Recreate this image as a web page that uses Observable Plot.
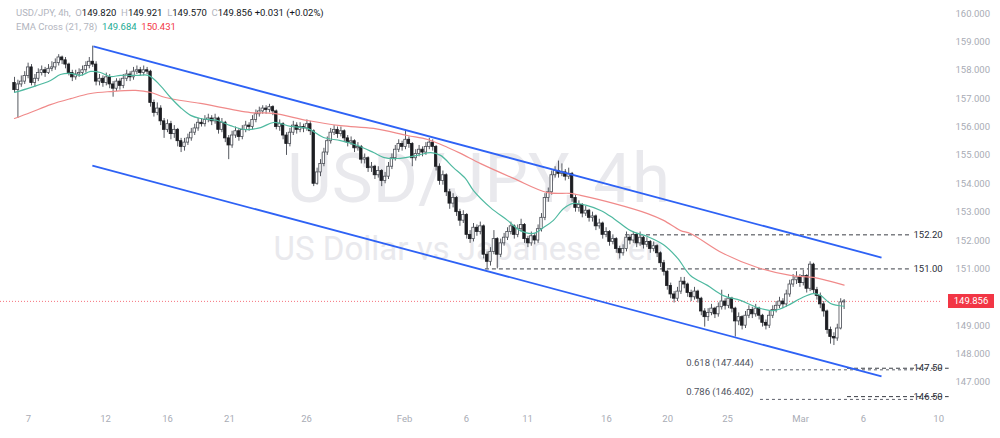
<!DOCTYPE html>
<html><head><meta charset="utf-8">
<script src="https://cdn.jsdelivr.net/npm/d3@7"></script>
<script src="https://cdn.jsdelivr.net/npm/@observablehq/plot@0.6"></script>
<style>
body{margin:0;background:#fff}
#wrap{position:relative;width:1000px;height:438px;font-family:Roboto,"Liberation Sans",sans-serif}
.hdr{position:absolute;left:16px;font-size:9.5px;line-height:12px;white-space:pre;color:#b2b5be}
.v{color:#131722}
#badge{position:absolute;left:948px;width:46px;height:14px;line-height:14px;background:#f23645;color:#fff;font-size:9.5px;text-align:center}
</style></head><body>
<div id="wrap"></div>
<script>
// ---- data (4h bars) ----
const open = [
157.55,157.30,157.50,157.60,157.80,158.10,157.55,157.70,157.90,158.00,
157.90,158.05,158.10,158.25,158.45,158.35,158.20,157.90,157.75,157.85,
157.90,158.00,158.15,158.30,158.20,157.60,157.70,157.55,157.75,157.50,
157.35,157.60,157.45,157.70,157.85,157.75,157.95,158.00,157.90,158.00,
157.95,156.85,156.50,156.65,156.20,155.90,156.10,155.75,155.90,155.50,
155.30,155.45,155.60,155.80,155.95,156.15,156.10,156.25,156.30,156.20,
156.30,155.90,156.15,155.60,155.35,155.70,155.85,155.65,155.90,156.05,
156.00,156.25,156.45,156.55,156.65,156.60,156.70,156.55,156.00,156.10,
155.70,155.40,155.80,156.05,155.90,156.00,155.95,156.10,155.85,154.00,
154.40,154.70,155.10,155.50,155.80,155.90,155.75,155.85,155.60,155.45,
155.50,155.25,155.30,154.85,154.90,154.55,154.60,154.30,154.45,154.10,
154.25,154.60,154.90,155.20,155.40,155.30,155.55,155.40,154.90,155.05,
155.20,155.10,155.30,155.45,155.30,154.60,154.10,154.30,153.70,153.30,
153.50,153.00,152.70,152.90,152.20,152.05,152.45,152.30,152.50,151.50,
151.25,151.60,152.05,151.50,151.90,152.10,152.30,152.50,152.20,152.40,
152.55,152.05,151.90,152.15,152.00,152.40,152.80,153.50,153.70,154.30,
154.45,154.35,154.40,154.25,154.35,153.50,153.15,153.25,152.95,153.05,
152.80,152.85,152.50,152.60,152.20,152.30,151.95,152.05,151.70,151.55,
151.70,152.10,152.00,152.20,151.90,152.10,151.85,151.95,151.70,151.80,
151.55,151.20,150.90,150.40,150.10,149.95,150.20,150.55,150.45,150.15,
150.00,150.20,149.95,149.50,149.30,149.45,149.60,149.40,149.65,149.85,
149.70,149.95,149.60,149.15,149.30,149.00,149.35,149.55,149.40,149.60,
149.35,149.10,149.00,149.35,149.55,149.70,149.85,149.75,150.10,150.45,
150.60,150.70,150.50,150.75,150.30,151.15,150.25,150.05,149.75,149.50,
148.85,148.60,148.55,148.90,149.82];
const close = [
157.30,157.50,157.60,157.80,158.10,157.55,157.70,157.90,158.00,157.90,
158.05,158.10,158.25,158.45,158.35,158.20,157.90,157.75,157.85,157.90,
158.00,158.15,158.30,158.20,157.60,157.70,157.55,157.75,157.50,157.35,
157.60,157.45,157.70,157.85,157.75,157.95,158.00,157.90,158.00,157.95,
156.85,156.50,156.65,156.20,155.90,156.10,155.75,155.90,155.50,155.30,
155.45,155.60,155.80,155.95,156.15,156.10,156.25,156.30,156.20,156.30,
155.90,156.15,155.60,155.35,155.70,155.85,155.65,155.90,156.05,156.00,
156.25,156.45,156.55,156.65,156.60,156.70,156.55,156.00,156.10,155.70,
155.40,155.80,156.05,155.90,156.00,155.95,156.10,155.85,154.00,154.40,
154.70,155.10,155.50,155.80,155.90,155.75,155.85,155.60,155.45,155.50,
155.25,155.30,154.85,154.90,154.55,154.60,154.30,154.45,154.10,154.25,
154.60,154.90,155.20,155.40,155.30,155.55,155.40,154.90,155.05,155.20,
155.10,155.30,155.45,155.30,154.60,154.10,154.30,153.70,153.30,153.50,
153.00,152.70,152.90,152.20,152.05,152.45,152.30,152.50,151.50,151.25,
151.60,152.05,151.50,151.90,152.10,152.30,152.50,152.20,152.40,152.55,
152.05,151.90,152.15,152.00,152.40,152.80,153.50,153.70,154.30,154.45,
154.35,154.40,154.25,154.35,153.50,153.15,153.25,152.95,153.05,152.80,
152.85,152.50,152.60,152.20,152.30,151.95,152.05,151.70,151.55,151.70,
152.10,152.00,152.20,151.90,152.10,151.85,151.95,151.70,151.80,151.55,
151.20,150.90,150.40,150.10,149.95,150.20,150.55,150.45,150.15,150.00,
150.20,149.95,149.50,149.30,149.45,149.60,149.40,149.65,149.85,149.70,
149.95,149.60,149.15,149.30,149.00,149.35,149.55,149.40,149.60,149.35,
149.10,149.00,149.35,149.55,149.70,149.85,149.75,150.10,150.45,150.60,
150.70,150.50,150.75,150.30,151.15,150.25,150.05,149.75,149.50,148.85,
148.60,148.55,148.90,149.82,149.856];
const high = [
157.75,157.65,157.80,157.95,158.25,158.20,157.85,158.05,158.15,158.10,
158.20,158.30,158.40,158.55,158.50,158.45,158.25,158.00,158.00,158.05,
158.15,158.30,158.45,158.85,158.30,157.85,157.80,157.90,157.85,157.60,
157.70,157.70,157.85,158.00,157.95,158.10,158.15,158.10,158.15,158.10,
158.00,156.95,156.85,156.75,156.30,156.25,156.20,156.05,155.95,155.60,
155.60,155.75,155.95,156.10,156.30,156.30,156.40,156.45,156.40,156.45,
156.35,156.30,156.20,155.70,155.85,156.00,155.95,156.05,156.20,156.15,
156.40,156.60,156.70,156.75,156.75,156.80,156.75,156.60,156.25,156.15,
155.80,155.95,156.20,156.15,156.15,156.10,156.25,156.20,155.90,154.55,
154.85,155.25,155.65,155.95,156.05,156.00,156.00,155.90,155.70,155.65,
155.55,155.45,155.35,155.05,154.95,154.75,154.65,154.60,154.50,154.40,
154.75,155.05,155.35,155.55,155.50,155.90,155.65,155.45,155.20,155.35,
155.30,155.45,155.60,155.55,155.35,154.70,154.45,154.35,153.80,153.65,
153.55,153.10,153.05,152.95,152.35,152.60,152.55,152.65,152.55,151.60,
151.75,152.35,152.10,152.05,152.25,152.45,152.65,152.55,152.55,152.75,
152.60,152.15,152.30,152.25,152.55,152.95,153.65,153.85,154.45,154.60,
154.80,154.70,154.50,154.55,154.40,153.60,153.40,153.30,153.20,153.10,
153.00,152.90,152.75,152.65,152.45,152.35,152.20,152.10,151.80,151.85,
152.30,152.20,152.30,152.25,152.30,152.15,152.10,152.00,151.95,151.85,
151.60,151.30,150.95,150.50,150.20,150.35,150.70,150.70,150.50,150.25,
150.35,150.25,150.00,149.60,149.60,149.75,149.65,149.80,150.25,149.95,
150.10,150.00,149.65,149.45,149.35,149.50,149.70,149.65,149.75,149.65,
149.40,149.20,149.50,149.70,149.85,150.00,149.95,150.25,150.60,150.80,
150.90,150.80,150.95,150.80,151.25,151.20,150.35,150.15,149.85,149.55,
148.95,148.75,149.05,149.95,149.921];
const low = [
157.20,156.30,157.40,157.50,157.70,157.45,157.40,157.60,157.80,157.75,
157.85,157.95,158.00,158.15,158.20,158.05,157.80,157.60,157.65,157.75,
157.80,157.90,158.05,158.10,157.45,157.45,157.40,157.45,157.35,157.05,
157.25,157.30,157.35,157.60,157.60,157.65,157.85,157.80,157.80,157.85,
156.70,156.35,156.40,156.05,155.60,155.80,155.55,155.60,155.30,155.10,
155.15,155.35,155.50,155.70,155.85,156.00,156.00,156.15,156.05,156.10,
155.75,155.80,155.45,154.85,155.25,155.60,155.50,155.55,155.80,155.85,
155.90,156.15,156.35,156.45,156.45,156.50,156.40,155.90,155.85,155.55,
155.00,155.30,155.70,155.75,155.80,155.80,155.85,155.70,153.90,153.95,
154.25,154.60,155.00,155.40,155.70,155.60,155.65,155.45,155.30,155.35,
155.10,155.15,154.70,154.70,154.40,154.40,154.15,154.20,153.90,154.00,
154.15,154.50,154.80,155.10,155.15,155.20,155.25,154.60,154.80,154.95,
154.95,155.00,155.20,155.15,154.45,153.95,153.95,153.55,153.10,153.15,
152.85,152.50,152.60,152.05,151.90,151.95,152.15,152.20,151.35,151.00,
151.10,151.50,151.00,151.40,151.80,152.00,152.20,152.05,152.10,152.30,
151.90,151.75,151.80,151.85,151.90,152.30,152.70,153.35,153.60,154.20,
154.20,154.25,154.10,154.15,153.35,153.00,153.00,152.80,152.85,152.65,
152.65,152.35,152.40,152.05,152.10,151.80,151.85,151.55,151.35,151.45,
151.60,151.85,151.90,151.75,151.80,151.70,151.75,151.55,151.60,151.40,
151.05,150.75,150.25,149.95,149.80,149.85,150.10,150.30,150.00,149.85,
149.90,149.80,149.35,148.95,149.15,149.35,149.25,149.30,149.55,149.55,
149.60,149.45,148.60,149.00,148.85,148.90,149.25,149.25,149.30,149.20,
148.95,148.85,148.90,149.25,149.45,149.60,149.60,149.65,150.00,150.35,
150.45,150.35,150.40,150.15,150.20,150.10,149.90,149.60,149.30,148.70,
148.35,148.30,148.45,148.85,149.570];

// EMA lines (bar index, value)
const ema21Idx = [0,4.7,10.6,13.5,16.5,19.4,22.4,25.3,28.2,31.2,36.2,39.4,42.9,45.9,48.8,51.8,54.7,59.7,63.5,67.9,72.4,76.2,81.2,86.2,90.9,95.9,100.9,105.6,108.5,112.6,118.5,122.4,125.3,129.1,132.6,135,140,145,148.8,152.6,155.6,158.5,161.5,164.4,168.5,172.4,176.2,181.2,186.2,190.9,195,198.8,203.8,208.5,213.5,218.5,223.2,227.4,231.2,235,237.1,240,244];
const ema21Val = [157.22,157.39,157.64,157.85,157.89,157.82,157.96,157.92,157.78,157.82,157.82,157.82,157.46,157.04,156.69,156.41,156.30,156.23,156.05,155.91,155.98,156.16,156.02,155.95,155.63,155.52,155.35,155.10,154.93,154.89,155.00,155.10,155.00,154.57,154.19,153.76,153.16,152.71,152.35,152.25,152.46,152.71,153.13,153.31,153.23,153.06,152.78,152.35,152.14,151.85,151.38,150.77,150.42,150.06,149.89,149.64,149.53,149.71,149.96,150.13,150.06,149.78,149.684];
const ema78Idx = [0,4.7,10.6,16.5,22.4,28.2,35.6,40,44.4,54.7,69.4,76.2,86.2,95.9,105.6,115.6,121.5,127.4,131.2,137.1,146.8,156.8,163.5,166.5,176.2,186.2,190.9,195.9,198.8,208.5,218.5,228.2,235,239.1,244];
const ema78Val = [156.30,156.51,156.79,157.00,157.18,157.25,157.29,157.22,157.04,156.83,156.51,156.48,156.23,156.05,155.95,155.70,155.56,155.28,155.07,154.71,154.19,153.69,153.66,153.59,153.31,152.95,152.71,152.35,152.25,151.54,151.05,150.77,150.70,150.59,150.431];

// drawn lines
const channelFrom = [23.2, 22.9], channelFromVal = [158.84, 154.64];
const channelTo = [255, 255], channelToVal = [151.40, 147.21];
const levelPrice = [152.20, 151.00, 147.50, 146.50];
const levelLabel = ["152.20", "151.00", "147.50", "146.50"];
const levelFrom = [179.7, 138.5, 245, 245];
const levelTo = [263.5, 263.5, 274.9, 274.9];
const fibRatio = ["0.618", "0.786"];
const fibPrice = [147.444, 146.402];
const fibFrom = [219.4, 219.4];
const fibTo = [264.4, 264.4];

const tickIdx = [4.1, 26.8, 45.0, 63.2, 85.9, 114.7, 132.9, 150.9, 174.1, 192.1, 209.7, 231.2, 249.7, 271.8];
const tickText = ["7","12","16","21","26","Feb","6","11","16","20","25","Mar","6","10"];
const yTicks = [147,148,149,151,152,153,154,155,156,157,158,159,160];

const symbol = "USD/JPY, 4h", desc = "US Dollar vs Japanese Yen";
const lastO = 149.820, lastH = 149.921, lastL = 149.570, lastC = 149.856;
const chg = "+0.031 (+0.02%)";
const emaFast = 149.684, emaSlow = 150.431;

// ---- build ----
const bars = close.map((c, i) => ({i, o: open[i], c, h: high[i], l: low[i]}));
const up = bars.filter(d => d.c >= d.o), dn = bars.filter(d => d.c < d.o);
const ema21 = ema21Idx.map((x, k) => ({x, v: ema21Val[k]}));
const ema78 = ema78Idx.map((x, k) => ({x, v: ema78Val[k]}));
const channels = channelFrom.map((x, k) => ({x1: x, y1: channelFromVal[k], x2: channelTo[k], y2: channelToVal[k]}));
const levels = levelPrice.map((p, k) => ({p, label: levelLabel[k], from: levelFrom[k], to: levelTo[k]}));
const fibs = fibPrice.map((p, k) => ({p, label: `${fibRatio[k]} (${p.toFixed(3)})`, from: fibFrom[k], to: fibTo[k]}));
const tickMap = new Map(tickIdx.map((t, k) => [t, tickText[k]]));

const plot = Plot.plot({
  width: 1000, height: 438,
  marginLeft: 0, marginRight: 60, marginTop: 0, marginBottom: 33,
  style: {fontFamily: "Roboto, 'Liberation Sans', sans-serif", fontSize: "9.5px", background: "#fff"},
  x: {type: "linear", domain: [-4.12, 272.35]},
  y: {domain: [146.187, 160.458]},
  marks: [
    Plot.text([symbol], {frameAnchor: "middle", dx: 8, dy: -23, fontSize: 69, fill: "#e9e9ed"}),
    Plot.text([desc], {frameAnchor: "middle", dx: -2, dy: 46, fontSize: 33, fill: "#e9e9ed"}),
    Plot.ruleY([lastC], {stroke: "#f23645", strokeOpacity: 0.7, strokeDasharray: "1,2", strokeWidth: 1}),
    Plot.ruleY(levels, {y: "p", x1: "from", x2: "to", stroke: "#3a3d45", strokeDasharray: "4,3", strokeWidth: 1}),
    Plot.text(levels, {y: "p", text: "label", frameAnchor: "right", textAnchor: "start", dx: -27, fill: "#2a2e39"}),
    Plot.ruleY(fibs, {y: "p", x1: "from", x2: "to", stroke: "#5d606b", strokeDasharray: "3,3", strokeWidth: 1}),
    Plot.text(fibs, {y: "p", x: "from", text: "label", textAnchor: "end", dx: -7, dy: -7, fill: "#50535e"}),
    Plot.ruleX(bars, {x: "i", y1: "l", y2: "h", stroke: "#55585f", strokeWidth: 1}),
    Plot.rect(up, {x1: d => d.i - 0.36, x2: d => d.i + 0.36, y1: "o", y2: "c", fill: "#ffffff", stroke: "#4a4d55", strokeWidth: 0.8}),
    Plot.rect(dn, {x1: d => d.i - 0.36, x2: d => d.i + 0.36, y1: "o", y2: "c", fill: "#1c1d21", stroke: "#1c1d21", strokeWidth: 0.8}),
    Plot.line(ema78, {x: "x", y: "v", stroke: "#f08a8a", strokeWidth: 1.2, curve: "catmull-rom"}),
    Plot.line(ema21, {x: "x", y: "v", stroke: "#4fb9a0", strokeWidth: 1.2, curve: "catmull-rom"}),
    Plot.link(channels, {x1: "x1", y1: "y1", x2: "x2", y2: "y2", stroke: "#2e62f5", strokeWidth: 1.8}),
    Plot.axisY({anchor: "right", ticks: yTicks, tickFormat: d => d.toFixed(3), tickSize: 0, tickPadding: 15, fill: "#a9acb5"}),
    Plot.axisX({ticks: tickIdx, tickFormat: d => tickMap.get(d), tickSize: 0, tickPadding: 10, fill: "#a9acb5"})
  ]
});

const wrap = document.getElementById("wrap");
wrap.appendChild(plot);
const h1 = document.createElement("div");
h1.className = "hdr"; h1.style.top = "7px";
h1.innerHTML = `${symbol},  O<span class="v">${lastO.toFixed(3)}</span>  H<span class="v">${lastH.toFixed(3)}</span>  L<span class="v">${lastL.toFixed(3)}</span>  C<span class="v">${lastC.toFixed(3)}</span> <span class="v">${chg}</span>`;
wrap.appendChild(h1);
const h2 = document.createElement("div");
h2.className = "hdr"; h2.style.top = "21px";
h2.innerHTML = `EMA Cross (21, 78)  <span style="color:#22ab94">${emaFast.toFixed(3)}</span>  <span style="color:#f23645">${emaSlow.toFixed(3)}</span>`;
wrap.appendChild(h2);
const badge = document.createElement("div");
badge.id = "badge";
badge.textContent = lastC.toFixed(3);
badge.style.top = (plot.scale("y").apply(lastC) - 7) + "px";
wrap.appendChild(badge);
</script>
</body></html>
